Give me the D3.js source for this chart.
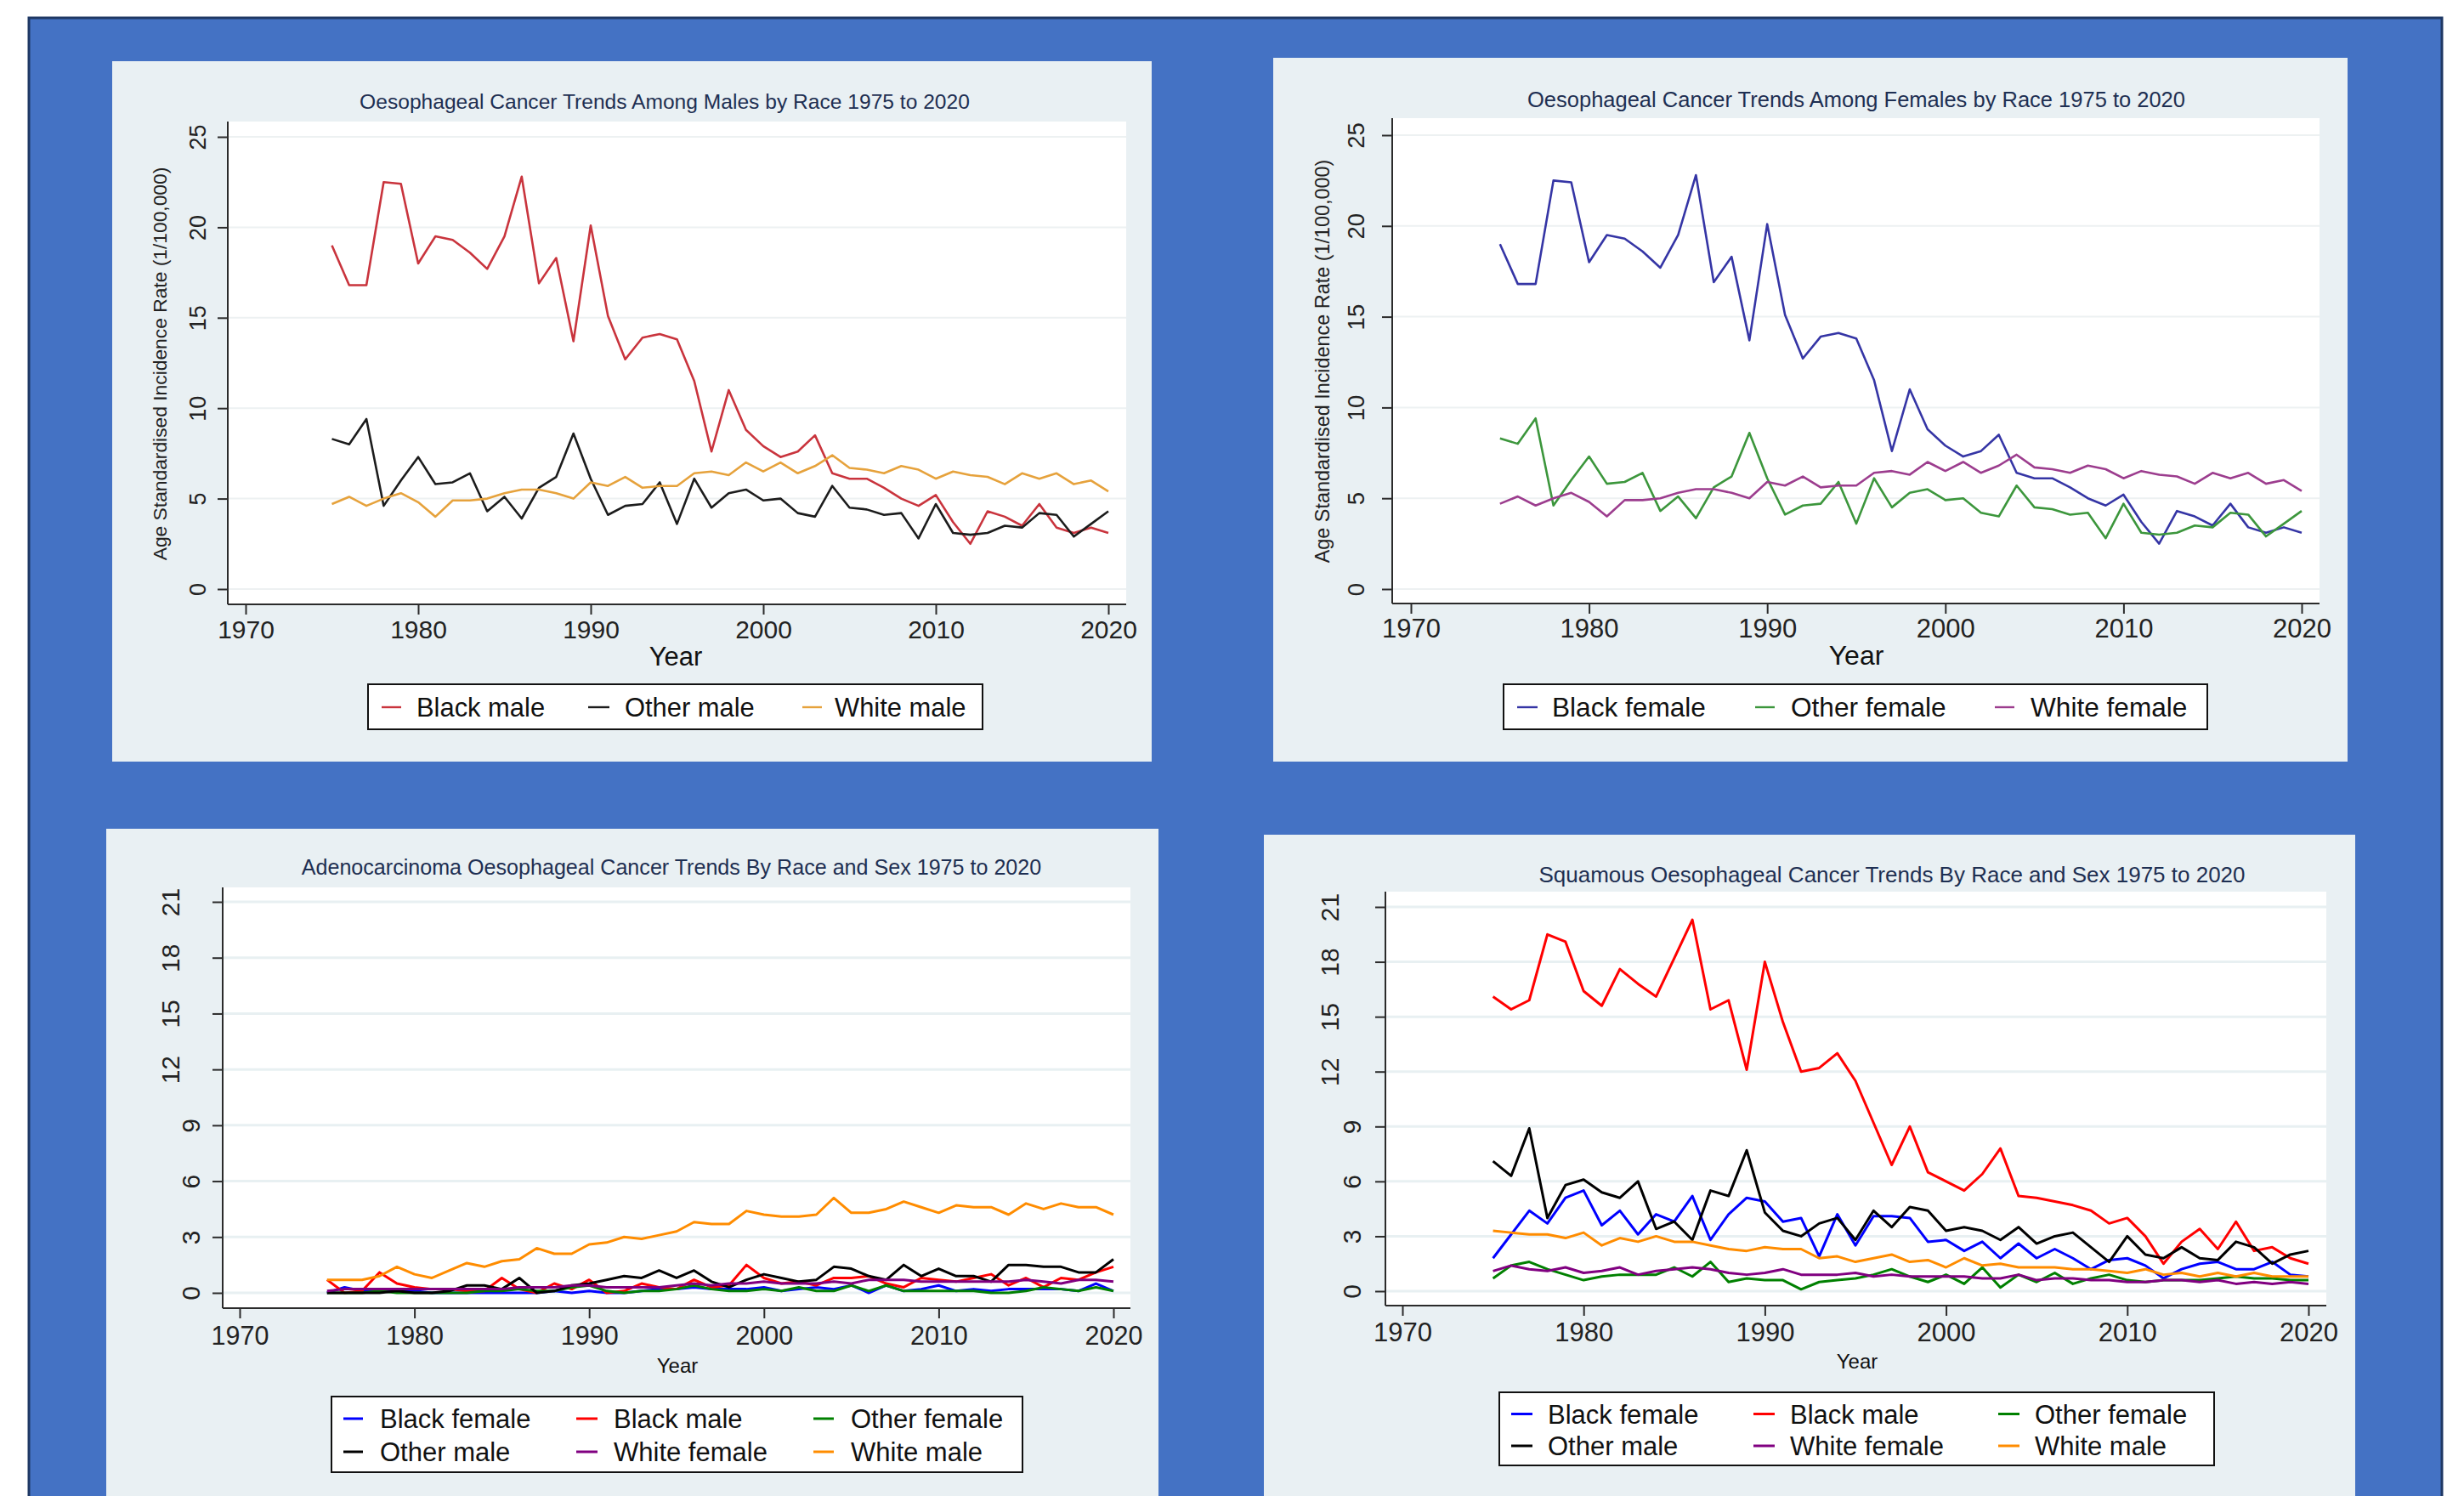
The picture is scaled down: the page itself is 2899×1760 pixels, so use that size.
<!DOCTYPE html>
<html>
<head>
<meta charset="utf-8">
<script src="https://cdn.jsdelivr.net/npm/d3@7"></script>
<style>
  html, body { margin: 0; padding: 0; background: #ffffff; }
  svg { display: block; }
  text { font-family: "Liberation Sans", Arial, Helvetica, sans-serif; }
</style>
</head>
<body>
<svg id="fig" width="2899" height="1760"></svg>
<script>
// ---------------- data ----------------
const years = d3.range(1975, 2021);
const yearTicks = [1970, 1980, 1990, 2000, 2010, 2020];
const rateTicks = [0, 5, 10, 15, 20, 25];
const subtypeTicks = [0, 3, 6, 9, 12, 15, 18, 21];

// All oesophageal cancer, males (age standardised rate per 100,000)
const maleBlack = [19.0, 16.8, 16.8, 22.5, 22.4, 18.0, 19.5, 19.3, 18.6, 17.7,
                   19.5, 22.8, 16.9, 18.3, 13.7, 20.1, 15.1, 12.7, 13.9, 14.1,
                   13.8, 11.5, 7.6, 11.0, 8.8, 7.9, 7.3, 7.6, 8.5, 6.4,
                   6.1, 6.1, 5.6, 5.0, 4.6, 5.2, 3.7, 2.5, 4.3, 4.0,
                   3.5, 4.7, 3.4, 3.1, 3.4, 3.1];
const maleOther = [8.3, 8.0, 9.4, 4.6, 6.0, 7.3, 5.8, 5.9, 6.4, 4.3,
                   5.1, 3.9, 5.6, 6.2, 8.6, 6.1, 4.1, 4.6, 4.7, 5.9,
                   3.6, 6.1, 4.5, 5.3, 5.5, 4.9, 5.0, 4.2, 4.0, 5.7,
                   4.5, 4.4, 4.1, 4.2, 2.8, 4.7, 3.1, 3.0, 3.1, 3.5,
                   3.4, 4.2, 4.1, 2.9, 3.6, 4.3];
const maleWhite = [4.7, 5.1, 4.6, 5.0, 5.3, 4.8, 4.0, 4.9, 4.9, 5.0,
                   5.3, 5.5, 5.5, 5.3, 5.0, 5.9, 5.7, 6.2, 5.6, 5.7,
                   5.7, 6.4, 6.5, 6.3, 7.0, 6.5, 7.0, 6.4, 6.8, 7.4,
                   6.7, 6.6, 6.4, 6.8, 6.6, 6.1, 6.5, 6.3, 6.2, 5.8,
                   6.4, 6.1, 6.4, 5.8, 6.0, 5.4];

// All oesophageal cancer, females
const femaleBlack = [19.0, 16.8, 16.8, 22.5, 22.4, 18.0, 19.5, 19.3, 18.6, 17.7,
                     19.5, 22.8, 16.9, 18.3, 13.7, 20.1, 15.1, 12.7, 13.9, 14.1,
                     13.8, 11.5, 7.6, 11.0, 8.8, 7.9, 7.3, 7.6, 8.5, 6.4,
                     6.1, 6.1, 5.6, 5.0, 4.6, 5.2, 3.7, 2.5, 4.3, 4.0,
                     3.5, 4.7, 3.4, 3.1, 3.4, 3.1];
const femaleOther = [8.3, 8.0, 9.4, 4.6, 6.0, 7.3, 5.8, 5.9, 6.4, 4.3,
                     5.1, 3.9, 5.6, 6.2, 8.6, 6.1, 4.1, 4.6, 4.7, 5.9,
                     3.6, 6.1, 4.5, 5.3, 5.5, 4.9, 5.0, 4.2, 4.0, 5.7,
                     4.5, 4.4, 4.1, 4.2, 2.8, 4.7, 3.1, 3.0, 3.1, 3.5,
                     3.4, 4.2, 4.1, 2.9, 3.6, 4.3];
const femaleWhite = [4.7, 5.1, 4.6, 5.0, 5.3, 4.8, 4.0, 4.9, 4.9, 5.0,
                     5.3, 5.5, 5.5, 5.3, 5.0, 5.9, 5.7, 6.2, 5.6, 5.7,
                     5.7, 6.4, 6.5, 6.3, 7.0, 6.5, 7.0, 6.4, 6.8, 7.4,
                     6.7, 6.6, 6.4, 6.8, 6.6, 6.1, 6.5, 6.3, 6.2, 5.8,
                     6.4, 6.1, 6.4, 5.8, 6.0, 5.4];

// Adenocarcinoma by race and sex
const adenoBlackFemale = [0.0, 0.3, 0.1, 0.2, 0.1, 0.1, 0.0, 0.0, 0.0, 0.0,
                          0.0, 0.0, 0.0, 0.1, 0.0, 0.1, 0.0, 0.0, 0.1, 0.2,
                          0.2, 0.3, 0.2, 0.2, 0.2, 0.3, 0.1, 0.2, 0.3, 0.2,
                          0.4, 0.0, 0.4, 0.1, 0.2, 0.4, 0.1, 0.2, 0.1, 0.2,
                          0.2, 0.2, 0.2, 0.1, 0.5, 0.1];
const adenoBlackMale = [0.7, 0.0, 0.1, 1.1, 0.5, 0.3, 0.2, 0.2, 0.1, 0.1,
                        0.8, 0.2, 0.0, 0.5, 0.2, 0.7, 0.0, 0.1, 0.5, 0.3,
                        0.2, 0.7, 0.3, 0.4, 1.5, 0.8, 0.5, 0.6, 0.4, 0.8,
                        0.8, 0.9, 0.5, 0.3, 0.8, 0.7, 0.6, 0.8, 1.0, 0.4,
                        0.8, 0.3, 0.8, 0.7, 1.1, 1.4];
const adenoOtherFemale = [0.0, 0.0, 0.0, 0.1, 0.0, 0.0, 0.0, 0.0, 0.0, 0.1,
                          0.1, 0.2, 0.1, 0.1, 0.3, 0.4, 0.1, 0.0, 0.1, 0.1,
                          0.2, 0.4, 0.2, 0.1, 0.1, 0.2, 0.1, 0.3, 0.1, 0.1,
                          0.4, 0.1, 0.4, 0.1, 0.1, 0.1, 0.1, 0.1, 0.0, 0.0,
                          0.1, 0.3, 0.2, 0.1, 0.3, 0.1];
const adenoOtherMale = [0.0, 0.0, 0.0, 0.0, 0.1, 0.0, 0.0, 0.1, 0.4, 0.4,
                        0.2, 0.8, 0.0, 0.1, 0.4, 0.5, 0.7, 0.9, 0.8, 1.2,
                        0.8, 1.2, 0.6, 0.3, 0.7, 1.0, 0.8, 0.6, 0.7, 1.4,
                        1.3, 0.9, 0.7, 1.5, 0.9, 1.3, 0.9, 0.9, 0.6, 1.5,
                        1.5, 1.4, 1.4, 1.1, 1.1, 1.8];
const adenoWhiteFemale = [0.1, 0.2, 0.2, 0.2, 0.2, 0.2, 0.2, 0.2, 0.2, 0.2,
                          0.2, 0.3, 0.3, 0.3, 0.4, 0.4, 0.3, 0.3, 0.3, 0.3,
                          0.4, 0.5, 0.4, 0.5, 0.5, 0.6, 0.5, 0.5, 0.5, 0.6,
                          0.5, 0.7, 0.7, 0.7, 0.6, 0.6, 0.6, 0.6, 0.6, 0.6,
                          0.7, 0.6, 0.5, 0.7, 0.7, 0.6];
const adenoWhiteMale = [0.7, 0.7, 0.7, 0.9, 1.4, 1.0, 0.8, 1.2, 1.6, 1.4,
                        1.7, 1.8, 2.4, 2.1, 2.1, 2.6, 2.7, 3.0, 2.9, 3.1,
                        3.3, 3.8, 3.7, 3.7, 4.4, 4.2, 4.1, 4.1, 4.2, 5.1,
                        4.3, 4.3, 4.5, 4.9, 4.6, 4.3, 4.7, 4.6, 4.6, 4.2,
                        4.8, 4.5, 4.8, 4.6, 4.6, 4.2];

// Squamous cell carcinoma by race and sex
const squamBlackFemale = [1.8, 3.1, 4.4, 3.7, 5.1, 5.5, 3.6, 4.4, 3.1, 4.2,
                          3.8, 5.2, 2.8, 4.2, 5.1, 4.9, 3.8, 4.0, 1.9, 4.2,
                          2.5, 4.1, 4.1, 4.0, 2.7, 2.8, 2.2, 2.7, 1.8, 2.6,
                          1.8, 2.3, 1.8, 1.2, 1.7, 1.8, 1.4, 0.7, 1.2, 1.5,
                          1.6, 1.2, 1.2, 1.6, 0.9, 0.8];
const squamBlackMale = [16.1, 15.4, 15.9, 19.5, 19.1, 16.4, 15.6, 17.6, 16.8, 16.1,
                        18.2, 20.3, 15.4, 15.9, 12.1, 18.0, 14.7, 12.0, 12.2, 13.0,
                        11.5, 9.2, 6.9, 9.0, 6.5, 6.0, 5.5, 6.4, 7.8, 5.2,
                        5.1, 4.9, 4.7, 4.4, 3.7, 4.0, 3.0, 1.5, 2.7, 3.4,
                        2.3, 3.8, 2.2, 2.4, 1.8, 1.5];
const squamOtherFemale = [0.7, 1.4, 1.6, 1.2, 0.9, 0.6, 0.8, 0.9, 0.9, 0.9,
                          1.3, 0.8, 1.6, 0.5, 0.7, 0.6, 0.6, 0.1, 0.5, 0.6,
                          0.7, 0.9, 1.2, 0.8, 0.5, 0.9, 0.4, 1.3, 0.2, 0.9,
                          0.5, 1.0, 0.4, 0.7, 0.9, 0.6, 0.5, 0.6, 0.6, 0.6,
                          0.7, 0.8, 0.7, 0.7, 0.6, 0.6];
const squamOtherMale = [7.1, 6.3, 8.9, 4.0, 5.8, 6.1, 5.4, 5.1, 6.0, 3.4,
                        3.8, 2.8, 5.5, 5.2, 7.7, 4.3, 3.3, 3.0, 3.7, 4.0,
                        2.8, 4.4, 3.5, 4.6, 4.4, 3.3, 3.5, 3.3, 2.8, 3.5,
                        2.6, 3.0, 3.2, 2.4, 1.6, 3.0, 2.0, 1.8, 2.4, 1.8,
                        1.7, 2.7, 2.4, 1.5, 2.0, 2.2];
const squamWhiteFemale = [1.1, 1.4, 1.2, 1.1, 1.3, 1.0, 1.1, 1.3, 0.9, 1.1,
                          1.2, 1.3, 1.2, 1.0, 0.9, 1.0, 1.2, 0.9, 0.9, 0.9,
                          1.0, 0.8, 0.9, 0.8, 0.8, 0.8, 0.8, 0.7, 0.7, 0.9,
                          0.6, 0.7, 0.7, 0.6, 0.6, 0.5, 0.5, 0.6, 0.6, 0.5,
                          0.6, 0.4, 0.5, 0.4, 0.5, 0.4];
const squamWhiteMale = [3.3, 3.2, 3.1, 3.1, 2.9, 3.2, 2.5, 2.9, 2.7, 3.0,
                        2.7, 2.7, 2.5, 2.3, 2.2, 2.4, 2.3, 2.3, 1.8, 1.9,
                        1.6, 1.8, 2.0, 1.6, 1.7, 1.3, 1.8, 1.4, 1.5, 1.3,
                        1.3, 1.3, 1.2, 1.2, 1.1, 1.0, 1.2, 0.9, 1.0, 0.8,
                        1.0, 0.8, 1.0, 0.8, 0.8, 0.8];

// ---------------- drawing ----------------
const svg = d3.select("#fig");
const PANEL_BG = "#e9f0f3";
const AXIS = "#2b2b2b";
const TITLE_COLOR = "#1e2f52";
const FONT = '"Liberation Sans", Arial, Helvetica, sans-serif';

svg.append("rect").attr("width", 2899).attr("height", 1760).attr("fill", "#ffffff");
svg.append("rect")
  .attr("x", 34).attr("y", 21).attr("width", 2839).attr("height", 1760)
  .attr("fill", "#4472c4").attr("stroke", "#1f3864").attr("stroke-width", 3);

function drawPanel(cfg) {
  const [bx0, by0, bx1, by1] = cfg.bg;
  const [px0, py0, px1, py1] = cfg.plot;
  const g = svg.append("g");

  g.append("rect").attr("x", bx0).attr("y", by0)
    .attr("width", bx1 - bx0).attr("height", by1 - by0).attr("fill", PANEL_BG);
  g.append("rect").attr("x", px0).attr("y", py0)
    .attr("width", px1 - px0).attr("height", py1 - py0).attr("fill", "#ffffff");

  const x = d3.scaleLinear().domain([1970, 2020]).range(cfg.xRange);
  const y = d3.scaleLinear().domain([0, cfg.yMax]).range(cfg.yRange);

  // horizontal gridlines
  g.append("g").selectAll("line").data(cfg.yTicks).join("line")
    .attr("x1", px0).attr("x2", px1)
    .attr("y1", d => y(d)).attr("y2", d => y(d))
    .attr("stroke", cfg.gridColor).attr("stroke-width", cfg.gridWidth);

  // series lines
  const line = d3.line().x((d, i) => x(years[i])).y(d => y(d));
  g.append("g").selectAll("path").data(cfg.series).join("path")
    .attr("d", s => line(s.values))
    .attr("fill", "none")
    .attr("stroke", s => s.color)
    .attr("stroke-width", cfg.lineWidth)
    .attr("stroke-linejoin", "round");

  // axis lines spanning the plot region
  g.append("line").attr("x1", px0).attr("x2", px0).attr("y1", py0).attr("y2", py1)
    .attr("stroke", AXIS).attr("stroke-width", 2);
  g.append("line").attr("x1", px0).attr("x2", px1).attr("y1", py1).attr("y2", py1)
    .attr("stroke", AXIS).attr("stroke-width", 2);

  // y axis
  const ya = g.append("g").attr("transform", `translate(${px0},0)`)
    .call(d3.axisLeft(y).tickValues(cfg.yTicks).tickSize(cfg.tick).tickSizeOuter(0).tickFormat(d3.format("d")));
  ya.attr("font-size", null).attr("font-family", null);
  ya.select(".domain").remove();
  ya.selectAll(".tick line").attr("stroke", AXIS).attr("stroke-width", 2);
  ya.selectAll(".tick text")
    .attr("x", null).attr("dy", null)
    .attr("text-anchor", "middle")
    .attr("fill", "#222")
    .style("font-family", FONT)
    .style("font-size", cfg.yLab.size + "px")
    .attr("transform", d => {
      const cx = (String(d).length > 1 ? cfg.yLab.cx2 : cfg.yLab.cx1) - px0;
      return `translate(${cx + 0.358 * cfg.yLab.size},0) rotate(-90)`;
    });

  // x axis
  const xa = g.append("g").attr("transform", `translate(0,${py1})`)
    .call(d3.axisBottom(x).tickValues(yearTicks).tickSize(cfg.tick).tickSizeOuter(0).tickFormat(d3.format("d")));
  xa.attr("font-size", null).attr("font-family", null);
  xa.select(".domain").remove();
  xa.selectAll(".tick line").attr("stroke", AXIS).attr("stroke-width", 2);
  xa.selectAll(".tick text")
    .attr("y", cfg.xLab.cy - py1).attr("dy", "0.36em")
    .attr("fill", "#222")
    .style("font-family", FONT)
    .style("font-size", cfg.xLab.size + "px");

  // titles
  g.append("text").attr("x", cfg.title.x).attr("y", cfg.title.y).attr("dy", "0.36em")
    .attr("text-anchor", "middle").attr("fill", TITLE_COLOR)
    .style("font-size", cfg.title.size + "px").text(cfg.title.text);
  g.append("text").attr("x", cfg.xTitle.x).attr("y", cfg.xTitle.y).attr("dy", "0.36em")
    .attr("text-anchor", "middle").attr("fill", "#111")
    .style("font-size", cfg.xTitle.size + "px").text("Year");
  if (cfg.yTitle) {
    g.append("text")
      .attr("transform", `translate(${cfg.yTitle.x + 0.358 * cfg.yTitle.size},${cfg.yTitle.y}) rotate(-90)`)
      .attr("text-anchor", "middle").attr("fill", "#222")
      .style("font-size", cfg.yTitle.size + "px").text(cfg.yTitle.text);
  }

  // legend
  const L = cfg.legend;
  const lg = g.append("g");
  lg.append("rect").attr("x", L.box[0]).attr("y", L.box[1])
    .attr("width", L.box[2] - L.box[0]).attr("height", L.box[3] - L.box[1])
    .attr("fill", "#ffffff").attr("stroke", "#111").attr("stroke-width", 2);
  cfg.series.forEach((s, i) => {
    const r = Math.floor(i / L.cols.length), c = i % L.cols.length;
    const [lx0, lx1, tx] = L.cols[c];
    const ry = L.rows[r];
    lg.append("line").attr("x1", lx0).attr("x2", lx1).attr("y1", ry).attr("y2", ry)
      .attr("stroke", s.color).attr("stroke-width", L.keyWidth);
    lg.append("text").attr("x", tx).attr("y", ry).attr("dy", "0.36em")
      .attr("fill", "#111").style("font-size", L.size + "px").text(s.name);
  });
}

// Top left: males
drawPanel({
  bg: [132, 72, 1355, 896], plot: [268, 143, 1325, 711],
  xRange: [289, 1304], yRange: [693, 161], yMax: 25, yTicks: rateTicks,
  tick: 12, gridColor: "#edf1f2", gridWidth: 2, lineWidth: 2.6,
  title: { text: "Oesophageal Cancer Trends Among Males by Race 1975 to 2020", x: 782, y: 119, size: 24.6 },
  yTitle: { text: "Age Standardised Incidence Rate (1/100,000)", x: 188, y: 428, size: 22.8 },
  yLab: { cx1: 232, cx2: 232, size: 27 },
  xLab: { cy: 740, size: 30 },
  xTitle: { x: 795, y: 772, size: 31 },
  legend: { box: [433, 805, 1156, 858], rows: [832], keyWidth: 2.4, size: 30.9,
            cols: [[449, 472, 490], [692, 717, 735], [944, 967, 982]] },
  series: [
    { name: "Black male", values: maleBlack, color: "#c9343d" },
    { name: "Other male", values: maleOther, color: "#1c1c1c" },
    { name: "White male", values: maleWhite, color: "#e6a23c" }
  ]
});

// Top right: females
drawPanel({
  bg: [1498, 68, 2762, 896], plot: [1638, 139, 2729, 710],
  xRange: [1660, 2708], yRange: [693, 159], yMax: 25, yTicks: rateTicks,
  tick: 12, gridColor: "#edf1f2", gridWidth: 2, lineWidth: 2.6,
  title: { text: "Oesophageal Cancer Trends Among Females by Race 1975 to 2020", x: 2184, y: 116.5, size: 25.5 },
  yTitle: { text: "Age Standardised Incidence Rate (1/100,000)", x: 1556, y: 425, size: 23.4 },
  yLab: { cx1: 1595, cx2: 1595, size: 27.5 },
  xLab: { cy: 739, size: 31 },
  xTitle: { x: 2184, y: 770, size: 32 },
  legend: { box: [1769, 805, 2597, 858], rows: [832], keyWidth: 2.4, size: 31.6,
            cols: [[1785, 1809, 1826], [2065, 2088, 2107], [2347, 2370, 2389]] },
  series: [
    { name: "Black female", values: femaleBlack, color: "#3535a5" },
    { name: "Other female", values: femaleOther, color: "#3c963c" },
    { name: "White female", values: femaleWhite, color: "#9c3d8e" }
  ]
});

const subtypeColors = {
  blackFemale: "#0000ff", blackMale: "#ff0000", otherFemale: "#008000",
  otherMale: "#000000", whiteFemale: "#800080", whiteMale: "#ff8c00"
};

// Bottom left: adenocarcinoma
drawPanel({
  bg: [125, 975, 1363, 1760], plot: [262, 1044, 1330, 1539],
  xRange: [282, 1310], yRange: [1521, 1061], yMax: 21, yTicks: subtypeTicks,
  tick: 12, gridColor: "#e8f0f2", gridWidth: 3, lineWidth: 3,
  title: { text: "Adenocarcinoma Oesophageal Cancer Trends By Race and Sex 1975 to 2020", x: 790, y: 1020, size: 25.1 },
  yLab: { cx1: 224, cx2: 200, size: 30 },
  xLab: { cy: 1571, size: 30.5 },
  xTitle: { x: 797, y: 1606, size: 24 },
  legend: { box: [390, 1643, 1203, 1732], rows: [1669, 1708], keyWidth: 3, size: 31,
            cols: [[404, 427, 447], [678, 703, 722], [957, 981, 1001]] },
  series: [
    { name: "Black female", values: adenoBlackFemale, color: subtypeColors.blackFemale },
    { name: "Black male", values: adenoBlackMale, color: subtypeColors.blackMale },
    { name: "Other female", values: adenoOtherFemale, color: subtypeColors.otherFemale },
    { name: "Other male", values: adenoOtherMale, color: subtypeColors.otherMale },
    { name: "White female", values: adenoWhiteFemale, color: subtypeColors.whiteFemale },
    { name: "White male", values: adenoWhiteMale, color: subtypeColors.whiteMale }
  ]
});

// Bottom right: squamous cell carcinoma
drawPanel({
  bg: [1487, 982, 2771, 1760], plot: [1630, 1049, 2737, 1536],
  xRange: [1650, 2716], yRange: [1519, 1067], yMax: 21, yTicks: subtypeTicks,
  tick: 12, gridColor: "#e8f0f2", gridWidth: 3, lineWidth: 3,
  title: { text: "Squamous Oesophageal Cancer Trends By Race and Sex 1975 to 2020", x: 2226, y: 1029, size: 26 },
  yLab: { cx1: 1590, cx2: 1564, size: 30 },
  xLab: { cy: 1567, size: 31 },
  xTitle: { x: 2185, y: 1601, size: 24 },
  legend: { box: [1764, 1638, 2605, 1724], rows: [1663.5, 1701], keyWidth: 3, size: 31,
            cols: [[1778, 1803, 1821], [2063, 2088, 2106], [2351, 2376, 2394]] },
  series: [
    { name: "Black female", values: squamBlackFemale, color: subtypeColors.blackFemale },
    { name: "Black male", values: squamBlackMale, color: subtypeColors.blackMale },
    { name: "Other female", values: squamOtherFemale, color: subtypeColors.otherFemale },
    { name: "Other male", values: squamOtherMale, color: subtypeColors.otherMale },
    { name: "White female", values: squamWhiteFemale, color: subtypeColors.whiteFemale },
    { name: "White male", values: squamWhiteMale, color: subtypeColors.whiteMale }
  ]
});
</script>
</body>
</html>
